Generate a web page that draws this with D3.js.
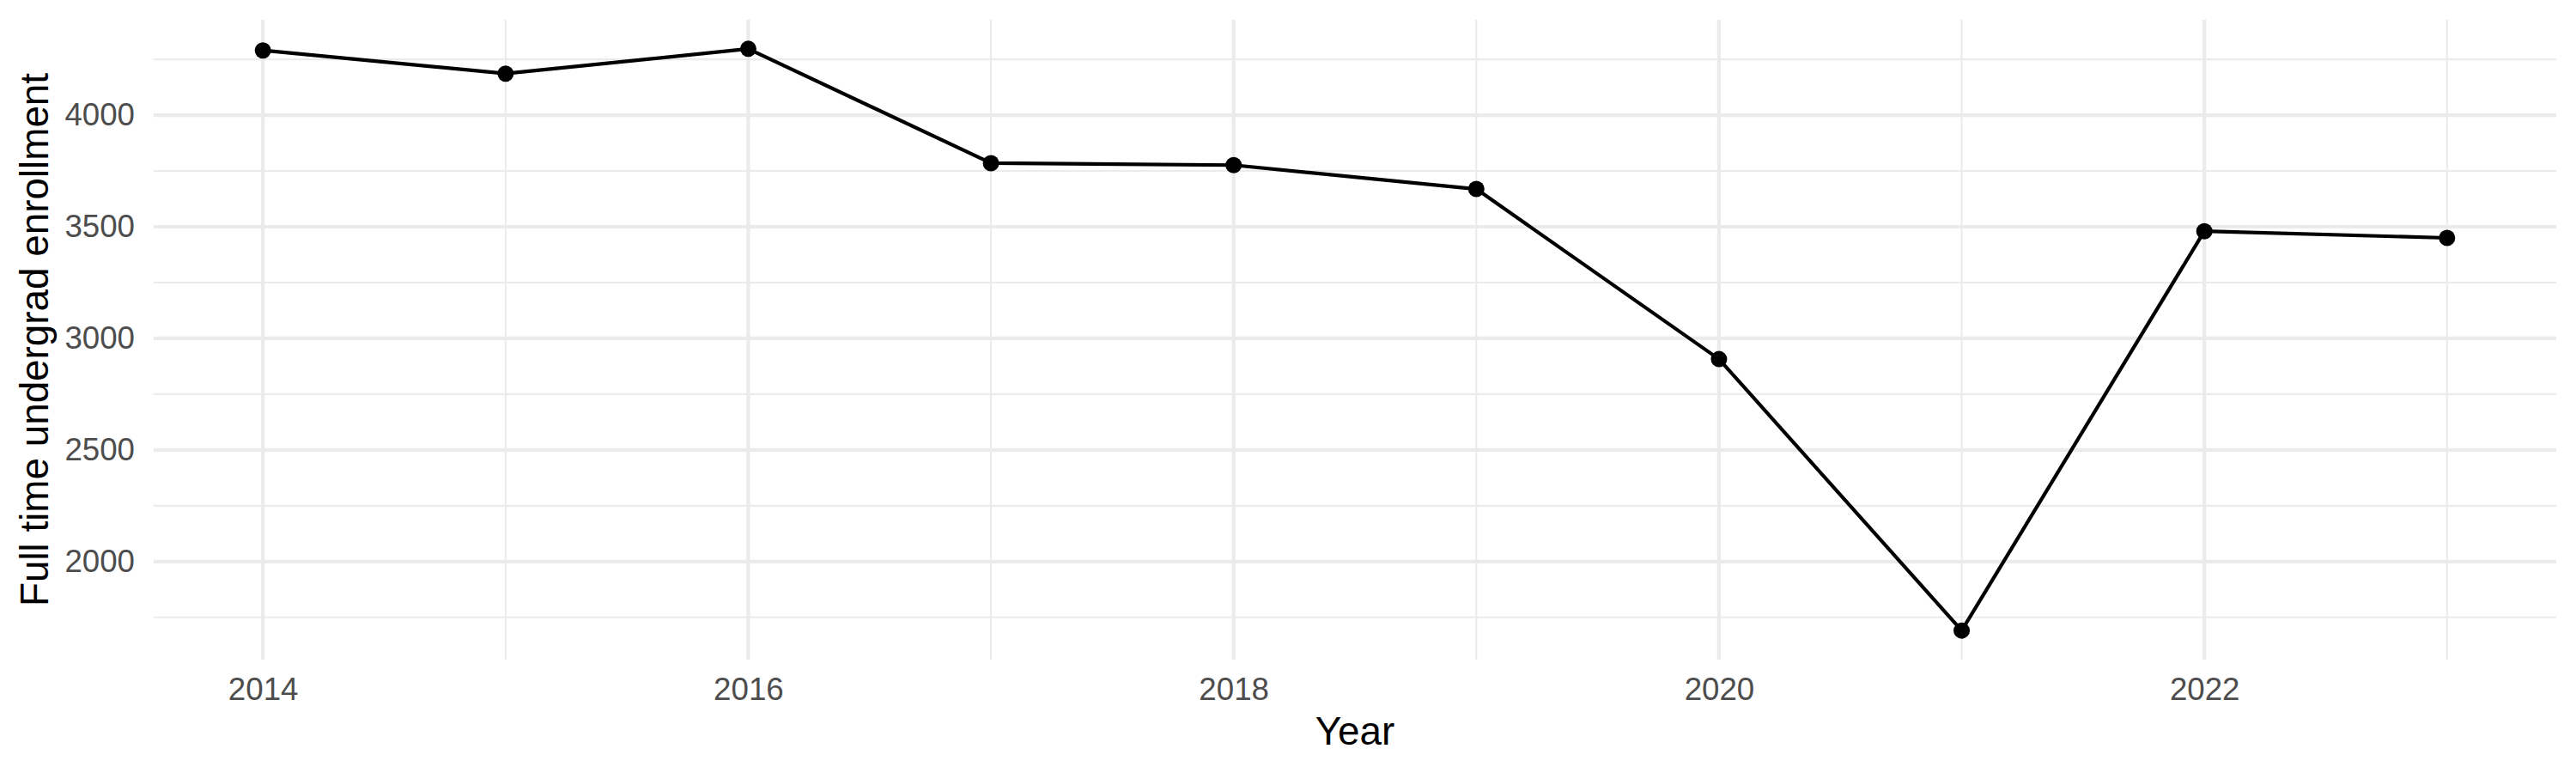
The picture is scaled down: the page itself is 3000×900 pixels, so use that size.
<!DOCTYPE html>
<html>
<head>
<meta charset="utf-8">
<script src="https://cdn.jsdelivr.net/npm/d3@7"></script>
<style>
  body { margin: 0; background: #fff; }
  svg { display: block; font-family: "Liberation Sans", Arial, sans-serif; }
</style>
</head>
<body>
<div id="chart"></div>
<script>
// data
const years = [2014, 2015, 2016, 2017, 2018, 2019, 2020, 2021, 2022, 2023];
const enrollment = [4290, 4186, 4297, 3785, 3776, 3669, 2907, 1691, 3480, 3450];
const xTicks = [2014, 2016, 2018, 2020, 2022];
const xMinor = [2015, 2017, 2019, 2021, 2023];
const yTicks = [2000, 2500, 3000, 3500, 4000];
const yMinor = [1750, 2250, 2750, 3250, 3750, 4250];

const width = 3000, height = 900;
// panel edges
const margin = {top: 23, right: 23, bottom: 132, left: 179};

// ggplot style 5% expansion of the data range
function expand(ext) {
  const pad = (ext[1] - ext[0]) * 0.05;
  return [ext[0] - pad, ext[1] + pad];
}

const x = d3.scaleLinear()
  .domain(expand(d3.extent(years)))
  .range([margin.left, width - margin.right]);
const y = d3.scaleLinear()
  .domain(expand(d3.extent(enrollment)))
  .range([height - margin.bottom, margin.top]);

const svg = d3.select("#chart").append("svg")
  .attr("width", width)
  .attr("height", height);

const grid = svg.append("g").attr("class", "grid");

// minor grid first, majors on top
grid.selectAll("line.ymin").data(yMinor).join("line")
  .attr("class", "ymin")
  .attr("x1", margin.left).attr("x2", width - margin.right)
  .attr("y1", d => y(d)).attr("y2", d => y(d))
  .attr("stroke", "#ebebeb").attr("stroke-width", 2.1);
grid.selectAll("line.xmin").data(xMinor).join("line")
  .attr("class", "xmin")
  .attr("y1", margin.top).attr("y2", height - margin.bottom)
  .attr("x1", d => x(d)).attr("x2", d => x(d))
  .attr("stroke", "#ebebeb").attr("stroke-width", 2.1);
grid.selectAll("line.ymaj").data(yTicks).join("line")
  .attr("class", "ymaj")
  .attr("x1", margin.left).attr("x2", width - margin.right)
  .attr("y1", d => y(d)).attr("y2", d => y(d))
  .attr("stroke", "#ebebeb").attr("stroke-width", 4.2);
grid.selectAll("line.xmaj").data(xTicks).join("line")
  .attr("class", "xmaj")
  .attr("y1", margin.top).attr("y2", height - margin.bottom)
  .attr("x1", d => x(d)).attr("x2", d => x(d))
  .attr("stroke", "#ebebeb").attr("stroke-width", 4.2);

// axes: labels only, no ticks or domain
const xAxis = svg.append("g")
  .attr("transform", `translate(0,${height - margin.bottom})`)
  .call(d3.axisBottom(x).tickValues(xTicks).tickFormat(d3.format("d")).tickSize(0).tickPadding(21))
  .call(g => g.select(".domain").remove());

const yAxis = svg.append("g")
  .attr("transform", `translate(${margin.left},0)`)
  .call(d3.axisLeft(y).tickValues(yTicks).tickFormat(d3.format("d")).tickSize(0).tickPadding(22))
  .call(g => g.select(".domain").remove());

svg.selectAll(".tick text")
  .attr("font-family", "'Liberation Sans', Arial, sans-serif")
  .attr("font-size", 36.7)
  .attr("fill", "#4d4d4d");

// axis titles
svg.append("text")
  .attr("x", (margin.left + width - margin.right) / 2)
  .attr("y", 867)
  .attr("text-anchor", "middle")
  .attr("font-size", 45.8)
  .attr("fill", "#000")
  .text("Year");

svg.append("text")
  .attr("transform", `translate(56,${(margin.top + height - margin.bottom) / 2}) rotate(-90)`)
  .attr("text-anchor", "middle")
  .attr("font-size", 45.8)
  .attr("fill", "#000")
  .text("Full time undergrad enrollment");

// the series
const line = d3.line()
  .x((d, i) => x(years[i]))
  .y(d => y(d));

svg.append("path")
  .attr("d", line(enrollment))
  .attr("fill", "none")
  .attr("stroke", "#000")
  .attr("stroke-width", 4.2)
  .attr("stroke-linejoin", "round");

svg.selectAll("circle.pt").data(enrollment).join("circle")
  .attr("class", "pt")
  .attr("cx", (d, i) => x(years[i]))
  .attr("cy", d => y(d))
  .attr("r", 9.5)
  .attr("fill", "#000");
</script>
</body>
</html>
